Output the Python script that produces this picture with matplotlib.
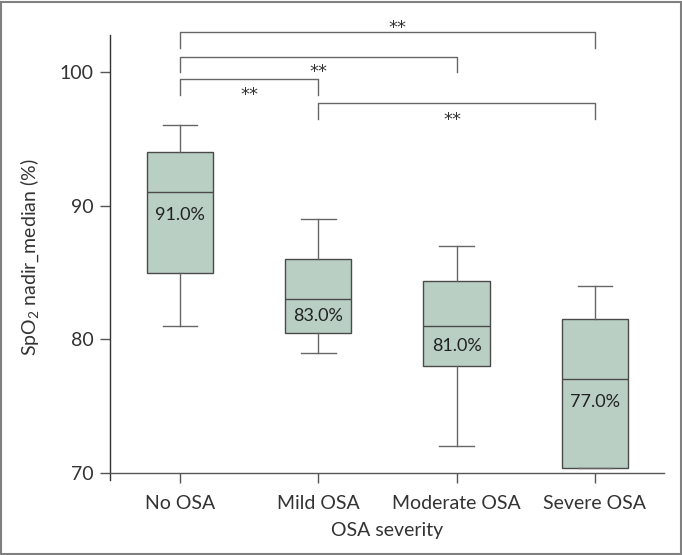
import matplotlib
matplotlib.use("Agg")
import matplotlib.pyplot as plt
from matplotlib.patches import Rectangle

categories = ["No OSA", "Mild OSA", "Moderate OSA", "Severe OSA"]
whislo = [81, 79, 72, 70.4]
q1 = [85, 80.5, 78, 70.4]
med = [91, 83, 81, 77]
q3 = [94, 86, 84.4, 81.5]
whishi = [96, 89, 87, 84]
median_labels = ["91.0%", "83.0%", "81.0%", "77.0%"]

# significance comparisons: (group a, group b, label)
comparisons = [(0, 3, "**"), (0, 2, "**"), (0, 1, "**"), (1, 3, "**")]
y_ticks = [70, 80, 90, 100]

plt.rcParams['font.family'] = ['Lato', 'DejaVu Sans']
plt.rcParams['mathtext.fontset'] = 'custom'
plt.rcParams['mathtext.rm'] = 'Lato'
plt.rcParams['mathtext.it'] = 'Lato'

fig = plt.figure(figsize=(6.82, 5.55), dpi=100)
ax = fig.add_axes([110/682, 75/555, 554/682, 445/555])

stats = []
for i in range(len(categories)):
    stats.append(dict(whislo=whislo[i], q1=q1[i], med=med[i], q3=q3[i],
                      whishi=whishi[i], fliers=[], label=categories[i]))

edge = "#4a4a4a"
ax.bxp(stats, positions=range(len(categories)), widths=0.48, patch_artist=True,
       showfliers=False,
       boxprops=dict(facecolor="#b9cfc4", edgecolor=edge, linewidth=1.0),
       medianprops=dict(color=edge, linewidth=1.0),
       whiskerprops=dict(color="#666666", linewidth=1.0),
       capprops=dict(color="#666666", linewidth=1.0),
       capwidths=0.25)

for i, lab in enumerate(median_labels):
    y = max(med[i] - 1.7, (med[i] + q1[i]) / 2)
    ax.text(i, y, lab, ha="center", va="center", fontsize=13, color="#222222")

# brackets
levels = [103.0, 101.15, 99.48, 97.66]
star_centers = [103.67, 100.4, 98.65, 96.78]
drop = 1.17
star_off = [0.07, 0.0, 0.0, -0.03]
for k, (a, b, s) in enumerate(comparisons):
    yl = levels[k]
    ax.plot([a, a, b, b], [yl - drop, yl, yl, yl - drop], color="#666666",
            linewidth=1.0, clip_on=False)
    xm = (a + b) / 2 + star_off[k]
    ax.text(xm, star_centers[k] - 0.75, s, ha="center", va="baseline", fontsize=13,
            color="#333333", family="DejaVu Sans", clip_on=False)

ax.set_xlim(-0.506, 3.5)
ax.set_ylim(69.48, 102.77)
ax.set_yticks(y_ticks)
ax.set_xticks(range(len(categories)))
ax.set_xticklabels(categories)
ax.tick_params(axis="both", length=7, width=1.0, color="#555555", labelsize=14,
               labelcolor="#333333")
ax.tick_params(axis="y", pad=5)
ax.tick_params(axis="x", pad=9)

for side in ["top", "right"]:
    ax.spines[side].set_visible(False)
ax.spines["bottom"].set_position(("data", 70))
ax.spines["left"].set_color("#333333")
ax.spines["bottom"].set_color("#555555")
ax.spines["left"].set_linewidth(1.0)
ax.spines["bottom"].set_linewidth(1.0)

ax.set_xlabel("OSA severity", fontsize=14, color="#333333", labelpad=7)
ax.set_ylabel(r"SpO$_2$ nadir_median (%)", fontsize=14, color="#333333", labelpad=13)

fig.patches.append(Rectangle((0.002, 0.002), 0.996, 0.995, transform=fig.transFigure,
                             fill=False, edgecolor="#808080", linewidth=1.5))

fig.savefig("out.png", dpi=100)
